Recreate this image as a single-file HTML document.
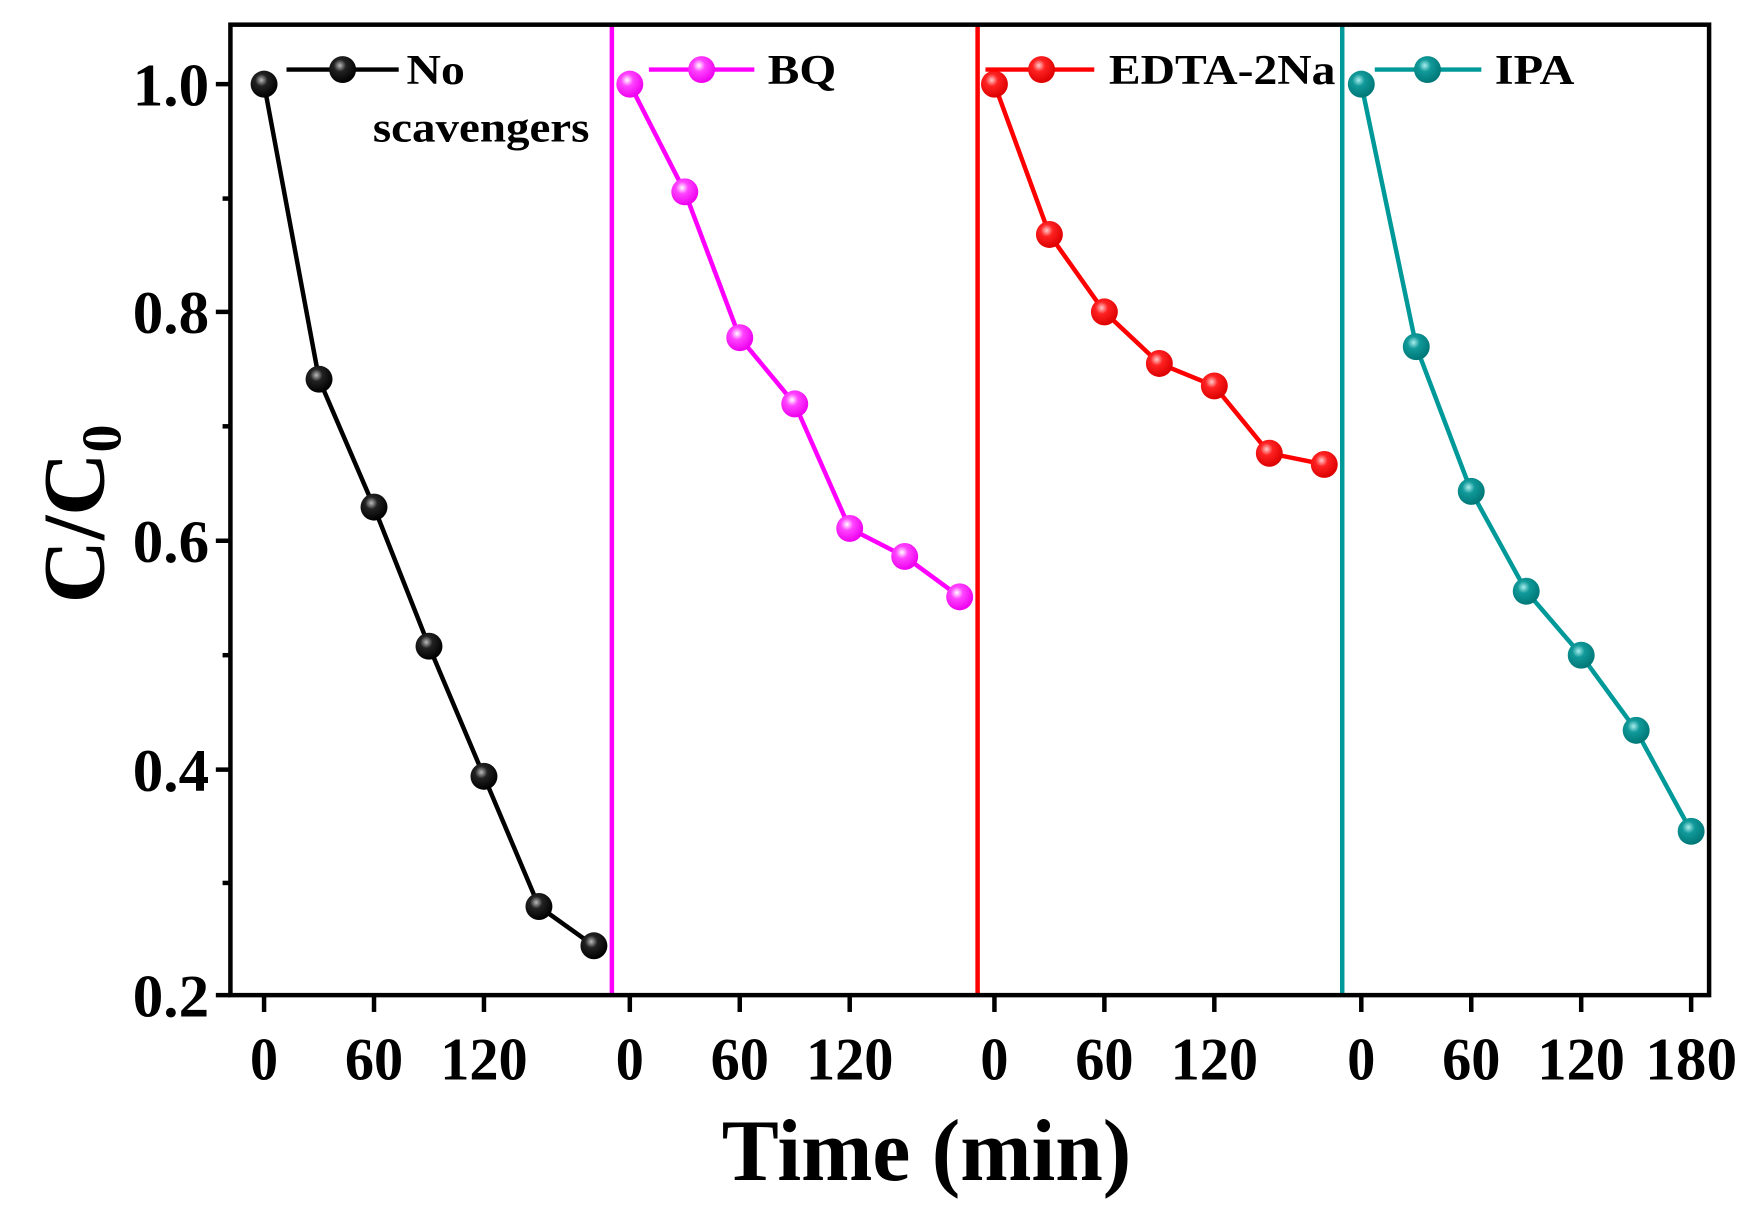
<!DOCTYPE html>
<html><head><style>html,body{margin:0;padding:0;background:#fff}svg{display:block}</style></head>
<body>
<svg width="1760" height="1224" viewBox="0 0 1568 1091" xmlns="http://www.w3.org/2000/svg" font-family="'Liberation Serif',serif" font-weight="bold">
<defs>
<radialGradient id="gk" cx="0.4" cy="0.35" r="0.65"><stop offset="0" stop-color="#bbb"/><stop offset="0.35" stop-color="#222"/><stop offset="1" stop-color="#000"/></radialGradient>
<radialGradient id="gm" cx="0.4" cy="0.35" r="0.65"><stop offset="0" stop-color="#fff"/><stop offset="0.35" stop-color="#f4f"/><stop offset="1" stop-color="#e0e"/></radialGradient>
<radialGradient id="gr" cx="0.4" cy="0.35" r="0.65"><stop offset="0" stop-color="#fcc"/><stop offset="0.35" stop-color="#f22"/><stop offset="1" stop-color="#d00"/></radialGradient>
<radialGradient id="gt" cx="0.4" cy="0.35" r="0.65"><stop offset="0" stop-color="#aee"/><stop offset="0.35" stop-color="#199"/><stop offset="1" stop-color="#077"/></radialGradient>
</defs>
<rect x="0" y="0" width="1568" height="1091" fill="#fff"/>
<line x1="545" y1="22" x2="545" y2="887" stroke="#f0f" stroke-width="4"/>
<line x1="871" y1="22" x2="871" y2="887" stroke="#f00" stroke-width="4"/>
<line x1="1196" y1="22" x2="1196" y2="887" stroke="#099" stroke-width="4"/>
<rect x="205" y="22" width="1318" height="865" fill="none" stroke="#000" stroke-width="4"/>
<g stroke="#000" stroke-width="4">
<line x1="192" y1="75" x2="205" y2="75"/><line x1="192" y1="278" x2="205" y2="278"/><line x1="192" y1="482" x2="205" y2="482"/><line x1="192" y1="686" x2="205" y2="686"/><line x1="192" y1="887" x2="205" y2="887"/>
<line x1="198" y1="177" x2="205" y2="177"/><line x1="198" y1="380" x2="205" y2="380"/><line x1="198" y1="584" x2="205" y2="584"/><line x1="198" y1="787" x2="205" y2="787"/>
<line x1="235" y1="887" x2="235" y2="902"/><line x1="333" y1="887" x2="333" y2="902"/><line x1="431" y1="887" x2="431" y2="902"/>
<line x1="561" y1="887" x2="561" y2="902"/><line x1="659" y1="887" x2="659" y2="902"/><line x1="757" y1="887" x2="757" y2="902"/>
<line x1="886" y1="887" x2="886" y2="902"/><line x1="984" y1="887" x2="984" y2="902"/><line x1="1082" y1="887" x2="1082" y2="902"/>
<line x1="1213" y1="887" x2="1213" y2="902"/><line x1="1311" y1="887" x2="1311" y2="902"/><line x1="1409" y1="887" x2="1409" y2="902"/><line x1="1507" y1="887" x2="1507" y2="902"/>
</g>
<g font-size="54">
<text x="118" y="94" textLength="68" lengthAdjust="spacingAndGlyphs">1.0</text>
<text x="118" y="297" textLength="68" lengthAdjust="spacingAndGlyphs">0.8</text>
<text x="118" y="501" textLength="68" lengthAdjust="spacingAndGlyphs">0.6</text>
<text x="118" y="705" textLength="68" lengthAdjust="spacingAndGlyphs">0.4</text>
<text x="118" y="906" textLength="68" lengthAdjust="spacingAndGlyphs">0.2</text>
</g>
<g font-size="54" text-anchor="middle">
<text x="235" y="962" textLength="25" lengthAdjust="spacingAndGlyphs">0</text><text x="333" y="962" textLength="52" lengthAdjust="spacingAndGlyphs">60</text><text x="431" y="962" textLength="78" lengthAdjust="spacingAndGlyphs">120</text>
<text x="561" y="962" textLength="25" lengthAdjust="spacingAndGlyphs">0</text><text x="659" y="962" textLength="52" lengthAdjust="spacingAndGlyphs">60</text><text x="757" y="962" textLength="78" lengthAdjust="spacingAndGlyphs">120</text>
<text x="886" y="962" textLength="25" lengthAdjust="spacingAndGlyphs">0</text><text x="984" y="962" textLength="52" lengthAdjust="spacingAndGlyphs">60</text><text x="1082" y="962" textLength="78" lengthAdjust="spacingAndGlyphs">120</text>
<text x="1213" y="962" textLength="25" lengthAdjust="spacingAndGlyphs">0</text><text x="1311" y="962" textLength="52" lengthAdjust="spacingAndGlyphs">60</text><text x="1409" y="962" textLength="78" lengthAdjust="spacingAndGlyphs">120</text><text x="1507" y="962" textLength="82" lengthAdjust="spacingAndGlyphs">180</text>
</g>
<text x="643" y="1052" font-size="78" textLength="365" lengthAdjust="spacingAndGlyphs">Time (min)</text>
<text transform="translate(92,458) rotate(-90)" font-size="78" text-anchor="middle">C/C<tspan font-size="50" dy="15">0</tspan></text>
<polyline fill="none" stroke="#000" stroke-width="4" points="235,75 284,338 333,452 382,576 431,692 480,808 529,843"/>
<polyline fill="none" stroke="#f0f" stroke-width="4" points="561,75 610,171 659,301 708,360 757,471 806,496 855,532"/>
<polyline fill="none" stroke="#f00" stroke-width="4" points="886,75 935,209 984,278 1033,324 1082,344 1131,404 1180,414"/>
<polyline fill="none" stroke="#099" stroke-width="4" points="1213,75 1262,309 1311,438 1360,527 1409,584 1458,651 1507,741"/>
<g fill="url(#gk)"><circle cx="235" cy="75" r="12"/><circle cx="284" cy="338" r="12"/><circle cx="333" cy="452" r="12"/><circle cx="382" cy="576" r="12"/><circle cx="431" cy="692" r="12"/><circle cx="480" cy="808" r="12"/><circle cx="529" cy="843" r="12"/></g>
<g fill="url(#gm)"><circle cx="561" cy="75" r="12"/><circle cx="610" cy="171" r="12"/><circle cx="659" cy="301" r="12"/><circle cx="708" cy="360" r="12"/><circle cx="757" cy="471" r="12"/><circle cx="806" cy="496" r="12"/><circle cx="855" cy="532" r="12"/></g>
<g fill="url(#gr)"><circle cx="886" cy="75" r="12"/><circle cx="935" cy="209" r="12"/><circle cx="984" cy="278" r="12"/><circle cx="1033" cy="324" r="12"/><circle cx="1082" cy="344" r="12"/><circle cx="1131" cy="404" r="12"/><circle cx="1180" cy="414" r="12"/></g>
<g fill="url(#gt)"><circle cx="1213" cy="75" r="12"/><circle cx="1262" cy="309" r="12"/><circle cx="1311" cy="438" r="12"/><circle cx="1360" cy="527" r="12"/><circle cx="1409" cy="584" r="12"/><circle cx="1458" cy="651" r="12"/><circle cx="1507" cy="741" r="12"/></g>
<line x1="255" y1="62" x2="355" y2="62" stroke="#000" stroke-width="4"/><circle cx="305" cy="62" r="12" fill="url(#gk)"/>
<text x="362" y="75" font-size="38" textLength="52" lengthAdjust="spacingAndGlyphs">No</text>
<text x="332" y="126" font-size="38" textLength="193" lengthAdjust="spacingAndGlyphs">scavengers</text>
<line x1="578" y1="62" x2="672" y2="62" stroke="#f0f" stroke-width="4"/><circle cx="625" cy="62" r="12" fill="url(#gm)"/>
<text x="684" y="75" font-size="38" textLength="61" lengthAdjust="spacingAndGlyphs">BQ</text>
<line x1="878" y1="62" x2="975" y2="62" stroke="#f00" stroke-width="4"/><circle cx="928" cy="62" r="12" fill="url(#gr)"/>
<text x="988" y="75" font-size="38" textLength="202" lengthAdjust="spacingAndGlyphs">EDTA-2Na</text>
<line x1="1225" y1="62" x2="1320" y2="62" stroke="#099" stroke-width="4"/><circle cx="1272" cy="62" r="12" fill="url(#gt)"/>
<text x="1332" y="75" font-size="38" textLength="71" lengthAdjust="spacingAndGlyphs">IPA</text>
</svg>
</body></html>
